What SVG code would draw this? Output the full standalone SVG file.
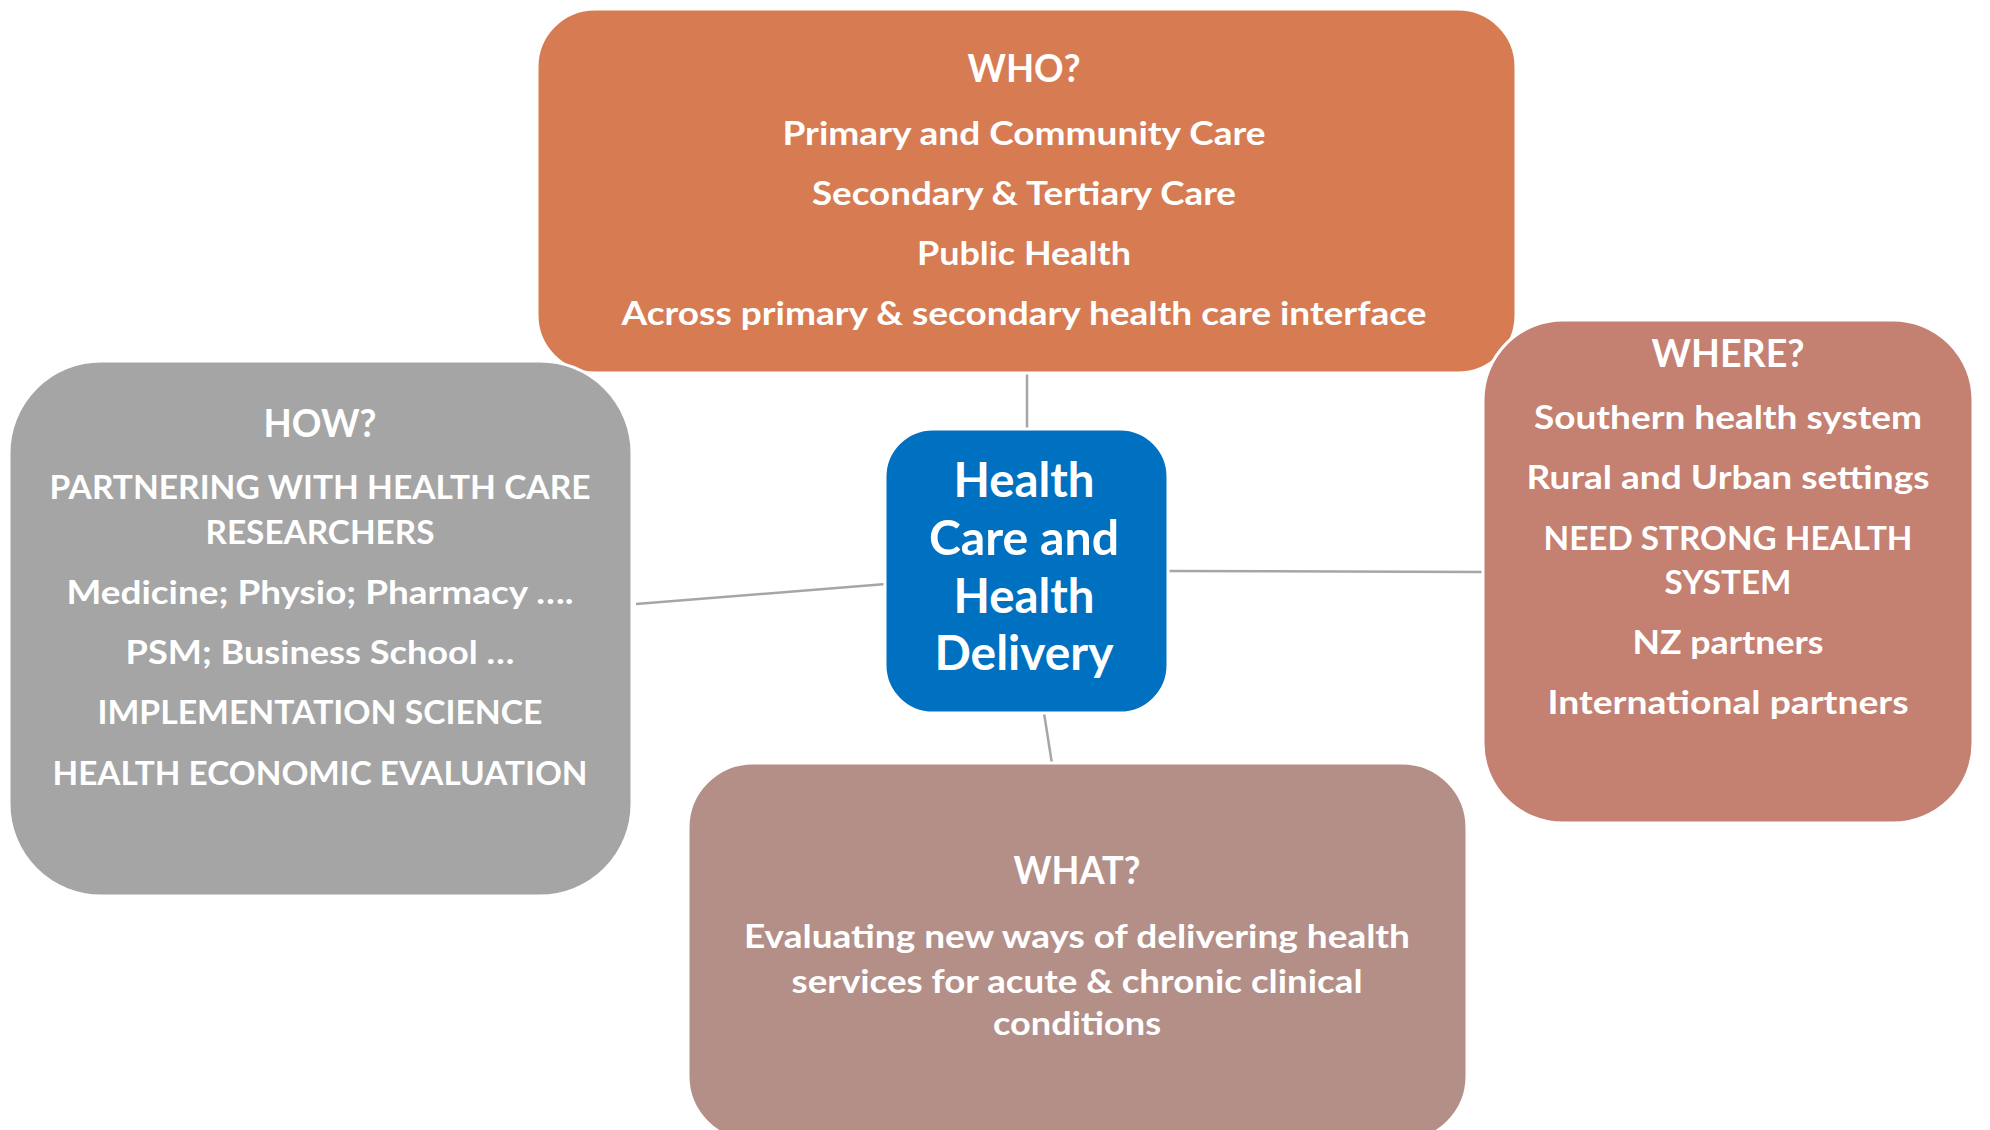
<svg xmlns="http://www.w3.org/2000/svg" width="1990" height="1130" viewBox="0 0 1990 1130">
<style>
.box{stroke:#FFFFFF;stroke-width:3}
.t{font-family:Lato,"Open Sans","Liberation Sans",sans-serif;font-weight:bold;fill:#FFFFFF;text-anchor:middle}
.b{font-size:33px}
.h{font-size:38px}
.c{font-size:48px}
.conn{stroke:#A6A6A6;stroke-width:2.5;fill:none}
</style>
<rect width="1990" height="1130" fill="#FFFFFF"/>
<g id="connectors">
<line class="conn" x1="1027" y1="374" x2="1027" y2="430"/>
<line class="conn" x1="636" y1="604" x2="886" y2="584"/>
<line class="conn" x1="1168" y1="571" x2="1484" y2="572"/>
<line class="conn" x1="1044" y1="713" x2="1052" y2="764"/>
</g>
<g id="who">
<rect class="box" x="537" y="9" width="979" height="364" rx="58" ry="58" fill="#D77B52"/>
<text class="t h" x="1024" y="82" textLength="113" lengthAdjust="spacingAndGlyphs">WHO?</text>
<text class="t b" x="1024" y="145" textLength="483" lengthAdjust="spacingAndGlyphs">Primary and Community Care</text>
<text class="t b" x="1024" y="205" textLength="424" lengthAdjust="spacingAndGlyphs">Secondary &amp; Tertiary Care</text>
<text class="t b" x="1024" y="265" textLength="214" lengthAdjust="spacingAndGlyphs">Public Health</text>
<text class="t b" x="1024" y="325" textLength="805" lengthAdjust="spacingAndGlyphs">Across primary &amp; secondary health care interface</text>
</g>
<g id="how">
<rect class="box" x="9" y="361" width="623" height="535" rx="92" ry="92" fill="#A5A5A5"/>
<text class="t h" x="320" y="437" textLength="113" lengthAdjust="spacingAndGlyphs">HOW?</text>
<text class="t b" x="320" y="499" textLength="541" lengthAdjust="spacingAndGlyphs">PARTNERING WITH HEALTH CARE</text>
<text class="t b" x="320" y="544" textLength="229" lengthAdjust="spacingAndGlyphs">RESEARCHERS</text>
<text class="t b" x="320" y="604" textLength="507" lengthAdjust="spacingAndGlyphs">Medicine; Physio; Pharmacy ….</text>
<text class="t b" x="320" y="664" textLength="389" lengthAdjust="spacingAndGlyphs">PSM; Business School …</text>
<text class="t b" x="320" y="724" textLength="445" lengthAdjust="spacingAndGlyphs">IMPLEMENTATION SCIENCE</text>
<text class="t b" x="320" y="785" textLength="535" lengthAdjust="spacingAndGlyphs">HEALTH ECONOMIC EVALUATION</text>
</g>
<g id="where">
<rect class="box" x="1483" y="320" width="490" height="503" rx="80" ry="80" fill="#C48070"/>
<text class="t h" x="1728" y="367" textLength="153" lengthAdjust="spacingAndGlyphs">WHERE?</text>
<text class="t b" x="1728" y="429" textLength="388" lengthAdjust="spacingAndGlyphs">Southern health system</text>
<text class="t b" x="1728" y="489" textLength="403" lengthAdjust="spacingAndGlyphs">Rural and Urban settings</text>
<text class="t b" x="1728" y="550" textLength="369" lengthAdjust="spacingAndGlyphs">NEED STRONG HEALTH</text>
<text class="t b" x="1728" y="594" textLength="127" lengthAdjust="spacingAndGlyphs">SYSTEM</text>
<text class="t b" x="1728" y="654" textLength="191" lengthAdjust="spacingAndGlyphs">NZ partners</text>
<text class="t b" x="1728" y="714" textLength="361" lengthAdjust="spacingAndGlyphs">International partners</text>
</g>
<g id="what">
<rect class="box" x="688" y="763" width="779" height="378" rx="65" ry="65" fill="#B38F88"/>
<text class="t h" x="1077" y="884" textLength="127" lengthAdjust="spacingAndGlyphs">WHAT?</text>
<text class="t b" x="1077" y="948" textLength="666" lengthAdjust="spacingAndGlyphs">Evaluating new ways of delivering health</text>
<text class="t b" x="1077" y="993" textLength="571" lengthAdjust="spacingAndGlyphs">services for acute &amp; chronic clinical</text>
<text class="t b" x="1077" y="1035" textLength="168" lengthAdjust="spacingAndGlyphs">conditions</text>
</g>
<g id="center">
<rect class="box" x="885" y="429" width="283" height="284" rx="48" ry="48" fill="#0070C0"/>
<text class="t c" x="1024" y="497" textLength="141" lengthAdjust="spacingAndGlyphs">Health</text>
<text class="t c" x="1024" y="555" textLength="190" lengthAdjust="spacingAndGlyphs">Care and</text>
<text class="t c" x="1024" y="613" textLength="141" lengthAdjust="spacingAndGlyphs">Health</text>
<text class="t c" x="1024" y="670" textLength="179" lengthAdjust="spacingAndGlyphs">Delivery</text>
</g>
</svg>
